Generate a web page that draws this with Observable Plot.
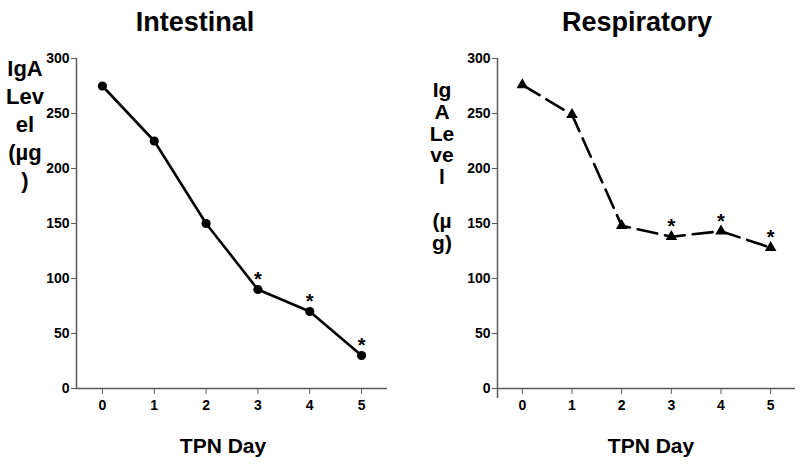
<!DOCTYPE html>
<html>
<head>
<meta charset="utf-8">
<script src="https://cdn.jsdelivr.net/npm/d3@7"></script>
<script src="https://cdn.jsdelivr.net/npm/@observablehq/plot@0.6"></script>
<style>
  body { margin: 0; background: #fff; }
  #wrap { position: relative; width: 800px; height: 464px; overflow: hidden; background: #fff;
          font-family: "Liberation Sans", Arial, sans-serif; font-weight: bold; color: #000; }
  .panel { position: absolute; top: 0; }
  .lbl { position: absolute; white-space: nowrap; transform: translateX(-50%); text-align: center; }
  .title { font-size: 27px; line-height: 27px; top: 9px; }
  .xlab { font-size: 21px; line-height: 21px; top: 435px; }
  .ylabL { font-size: 22px; line-height: 28px; top: 55px; }
  .ylabR { font-size: 21px; line-height: 21.8px; top: 79px; }
</style>
</head>
<body>
<div id="wrap"></div>
<script>
// ---- data ----
const days = [0, 1, 2, 3, 4, 5];
const intestinal = [275, 225, 150, 90, 70, 30];
const respiratory = [276, 249, 148, 138, 143, 128];
const sigDays = [3, 4, 5];
const yTicks = [0, 50, 100, 150, 200, 250, 300];
const panelTitles = ["Intestinal", "Respiratory"];
const xLabel = "TPN Day";
const yLabelLeft = ["IgA", "Lev", "el", "(\u00B5g", ")"];
const yLabelRight = ["Ig", "A", "Le", "ve", "l", "", "(\u00B5", "g)"];

const wrap = document.getElementById("wrap");
const axisColor = "#5a5a5a";
const font = '"Liberation Sans", Arial, sans-serif';

function panel(values, opts) {
  const data = days.map((d, i) => ({day: d, v: values[i]}));
  const sig = data.filter(d => sigDays.includes(d.day));
  const svg = Plot.plot({
    width: 400,
    height: 464,
    marginLeft: opts.marginLeft,
    marginRight: opts.marginRight,
    marginTop: 58,
    marginBottom: 76,
    x: {domain: [-0.5, 5.5]},
    y: {domain: [0, 300]},
    style: {fontFamily: font, fontSize: "14px", fontWeight: "bold", background: "transparent",
            overflow: "visible", color: "#000"},
    marks: [
      Plot.axisY({ticks: yTicks, tickSize: 5, tickPadding: 2, stroke: axisColor, fill: "#000",
                  fontSize: 14, label: null}),
      Plot.axisX({ticks: days, tickSize: 6, tickPadding: 6, stroke: axisColor, fill: "#000",
                  fontSize: 14, label: null, tickFormat: d => String(d)}),
      Plot.ruleX([-0.5], {y1: opts.yAxisBottom, y2: 300, stroke: axisColor, strokeWidth: 1.5}),
      Plot.ruleY([0], {x1: -0.5, x2: 5.5, stroke: axisColor, strokeWidth: 1.5}),
      Plot.line(data, {x: "day", y: "v", stroke: "#000", strokeWidth: 2.6,
                       strokeDasharray: opts.dash, curve: "linear"}),
      Plot.dot(data, {x: "day", y: "v", symbol: opts.symbol, r: opts.r, fill: "#000", stroke: "none"}),
      Plot.text(sig, {x: "day", y: "v", text: () => "*", dy: -10, fontSize: 20, fill: "#000"})
    ]
  });
  svg.classList.add("panel");
  svg.style.left = opts.left + "px";
  wrap.appendChild(svg);
}

panel(intestinal, {left: 0, marginLeft: 76, marginRight: 13, symbol: "circle", r: 4.6, dash: null, yAxisBottom: 0});
panel(respiratory, {left: 400, marginLeft: 97, marginRight: 5, symbol: "triangle", r: 4.3, dash: "20,8", yAxisBottom: -9});

function label(text, cls, x) {
  const d = document.createElement("div");
  d.className = "lbl " + cls;
  d.style.left = x + "px";
  d.innerHTML = text;
  wrap.appendChild(d);
}
label(panelTitles[0], "title", 195);
label(panelTitles[1], "title", 637);
label(xLabel, "xlab", 223);
label(xLabel, "xlab", 651);
label(yLabelLeft.map(s => s || "&nbsp;").join("<br>"), "ylabL", 25);
label(yLabelRight.map(s => s || "&nbsp;").join("<br>"), "ylabR", 442);
</script>
</body>
</html>
